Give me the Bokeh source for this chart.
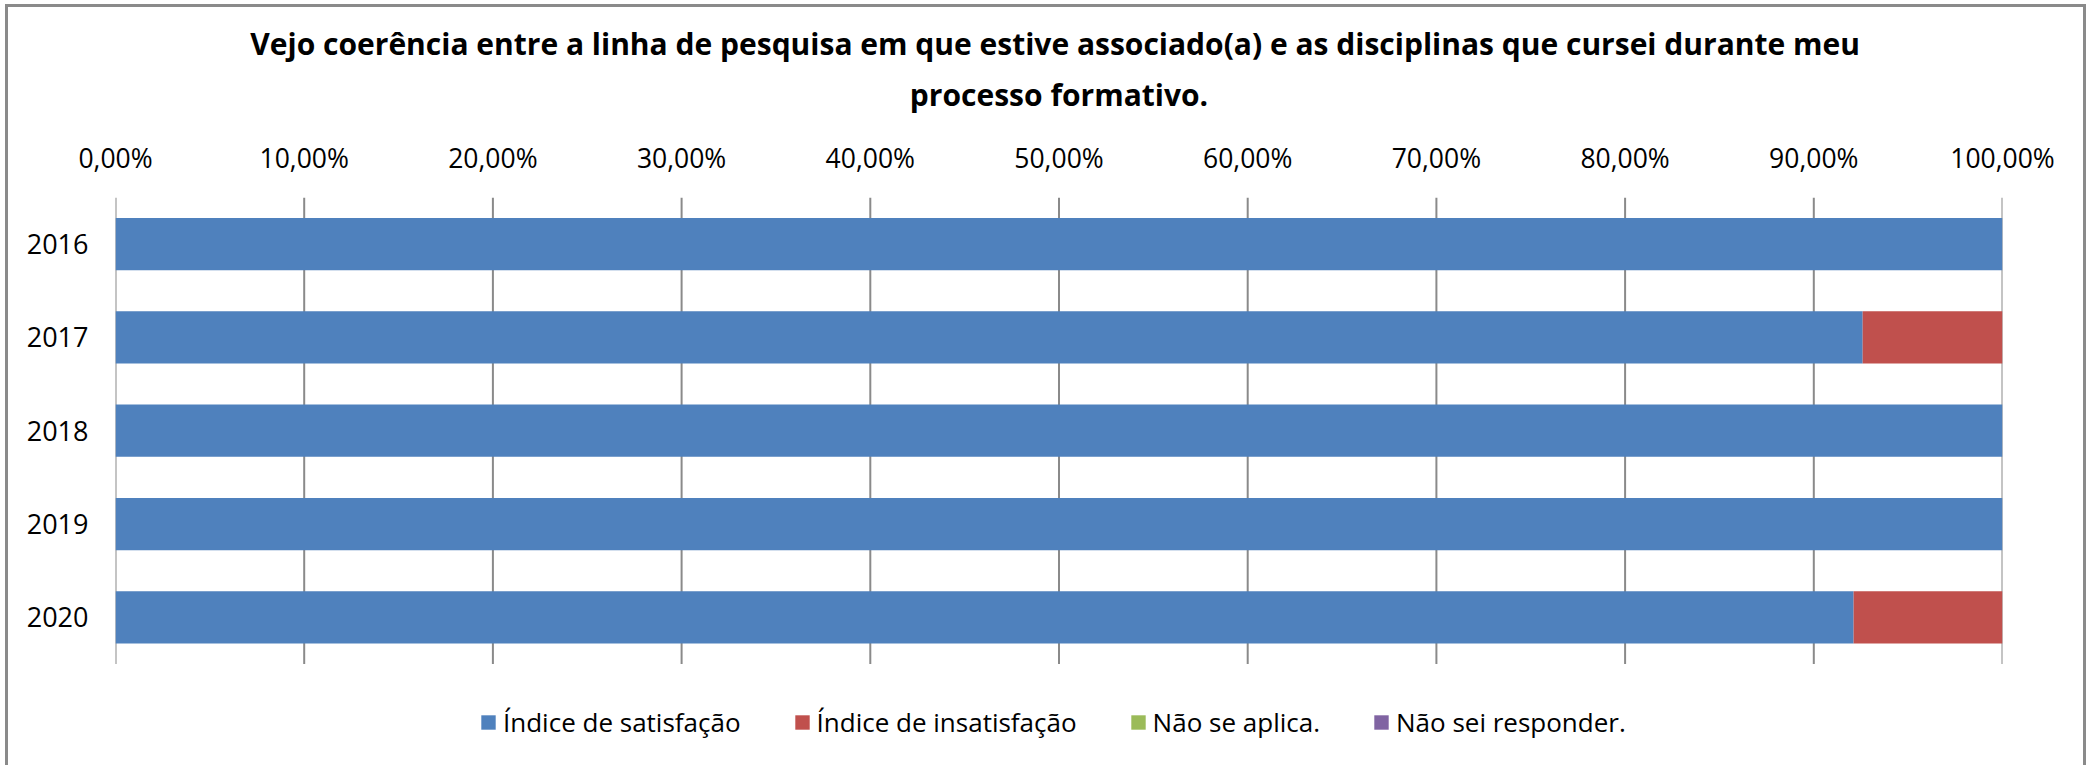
from bokeh.plotting import figure
from bokeh.models import ColumnDataSource, Range1d, FixedTicker, Title
from bokeh.embed import file_html
from bokeh.resources import INLINE

title_lines = [
    "Vejo coerência entre a linha de pesquisa em que estive associado(a)  e as disciplinas que cursei durante meu",
    "processo formativo.",
]
years = ["2016", "2017", "2018", "2019", "2020"]
satisfacao = [100.0, 92.59, 100.0, 100.0, 92.11]
insatisfacao = [0.0, 7.41, 0.0, 0.0, 7.89]
nao_se_aplica = [0.0, 0.0, 0.0, 0.0, 0.0]
nao_sei = [0.0, 0.0, 0.0, 0.0, 0.0]
series_labels = ["Índice de satisfação", "Índice de insatisfação", "Não se aplica.", "Não sei responder."]
series_colors = ["#4F81BD", "#C0504D", "#9BBB59", "#8064A2"]
tick_values = [0, 10, 20, 30, 40, 50, 60, 70, 80, 90, 100]
tick_labels = ["0,00%", "10,00%", "20,00%", "30,00%", "40,00%", "50,00%",
               "60,00%", "70,00%", "80,00%", "90,00%", "100,00%"]

FONT = "Open Sans"
GRID = "#8a8a8a"
W, H = 2075, 758
L, R, T, B = 107, 87, 190, 0

n = len(years)
ypos = list(range(n, 0, -1))          # 2016 on top
band_px = 92.8
frame_h = H - T - B
y_top = n + 0.5
y_bottom = y_top - frame_h / band_px  # room under the bars for the legend

source = ColumnDataSource(dict(y=ypos, s=satisfacao, i=insatisfacao, n=nao_se_aplica, ns=nao_sei))

p = figure(width=W, height=H, output_backend="svg", toolbar_location=None,
           y_range=Range1d(y_bottom, y_top), x_range=Range1d(0, 100), x_axis_location="above",
           min_border_left=L, min_border_right=R, min_border_top=T, min_border_bottom=B)
p.outline_line_color = None
p.background_fill_color = "white"
p.border_fill_color = "white"
p.styles = {"margin": "4px 0px 0px 5px",
            "box-sizing": "content-box",
            "border-top": "3px solid #8a8a8a",
            "border-left": "3px solid #8a8a8a",
            "border-right": "3px solid #8a8a8a"}

# vertical grid lines spanning the category bands only
p.segment(x0=tick_values, x1=tick_values, y0=[0.5] * len(tick_values), y1=[y_top] * len(tick_values),
          line_color=GRID, line_width=2, level="underlay")

p.hbar_stack(["s", "i", "n", "ns"], y="y", height=0.56, source=source,
             fill_color=series_colors, line_color=None, legend_label=series_labels)

xa = p.xaxis[0]
xa.ticker = FixedTicker(ticks=tick_values)
xa.major_label_overrides = {v: t for v, t in zip(tick_values, tick_labels)}
xa.axis_line_color = None
xa.major_tick_line_color = None
xa.minor_tick_line_color = None
xa.major_label_standoff = 16
xa.major_label_text_font = FONT
xa.major_label_text_font_size = "26.5px"
xa.major_label_text_color = "#000000"

ya = p.yaxis[0]
ya.ticker = FixedTicker(ticks=ypos)
ya.major_label_overrides = {v: t for v, t in zip(ypos, years)}
ya.axis_line_color = None
ya.major_tick_line_color = None
ya.minor_tick_line_color = None
ya.major_label_standoff = 21
ya.major_label_text_font = FONT
ya.major_label_text_font_size = "27px"
ya.major_label_text_color = "#000000"

p.xgrid.grid_line_color = None
p.ygrid.grid_line_color = None

# title: two centred lines stacked above the axis
p.add_layout(Title(text=title_lines[1], align="center", offset=-12, standoff=43,
                   text_font=FONT, text_font_size="30px", text_font_style="bold",
                   text_color="#000000"), "above")
p.add_layout(Title(text=title_lines[0], align="center", offset=-12, standoff=-26,
                   text_font=FONT, text_font_size="30px", text_font_style="bold",
                   text_line_height=1.1, text_color="#000000"), "above")

lg = p.legend[0]
lg.orientation = "horizontal"
lg.location = (364, 28)
lg.border_line_color = None
lg.background_fill_alpha = 0
lg.padding = 0
lg.margin = 0
lg.spacing = 52
lg.label_standoff = 6
lg.glyph_width = 18
lg.glyph_height = 18
lg.label_text_font = FONT
lg.label_text_font_size = "26px"
lg.label_text_color = "#000000"

open("out.html", "w").write(file_html(p, INLINE))
